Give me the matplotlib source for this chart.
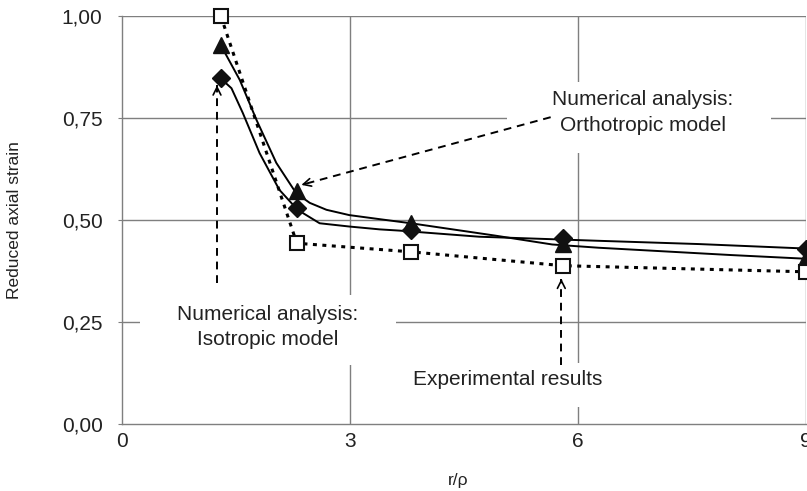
import matplotlib
matplotlib.use("Agg")
import matplotlib.pyplot as plt
from matplotlib.patches import Rectangle

plt.rcParams["font.family"] = ["Liberation Sans", "DejaVu Sans"]

# numerical curves (r/rho, reduced axial strain)
ortho_x = [1.31, 1.55, 1.77, 2.03, 2.29, 2.47, 2.69, 2.99, 3.39, 3.80, 4.90, 5.66, 6.27, 8.02, 9.00]
ortho_y = [0.925, 0.843, 0.745, 0.640, 0.566, 0.542, 0.525, 0.512, 0.502, 0.492, 0.462, 0.440, 0.432, 0.414, 0.405]
iso_x = [1.31, 1.44, 1.59, 1.81, 2.07, 2.31, 2.60, 2.99, 3.39, 3.65, 4.70, 6.27, 7.59, 9.00]
iso_y = [0.845, 0.823, 0.762, 0.664, 0.574, 0.525, 0.492, 0.484, 0.477, 0.474, 0.459, 0.449, 0.441, 0.430]

# marked points
pts_x = [1.3, 2.3, 3.8, 5.8, 9.0]
ortho_pts = [0.930, 0.572, 0.492, 0.441, 0.407]
iso_pts = [0.849, 0.530, 0.475, 0.455, 0.430]
exp_pts = [1.000, 0.443, 0.422, 0.388, 0.373]

y_ticks = [0.0, 0.25, 0.5, 0.75, 1.0]
y_labels = ["0,00", "0,25", "0,50", "0,75", "1,00"]
x_ticks = [0, 3, 6, 9]
x_labels = ["0", "3", "6", "9"]

fig = plt.figure(figsize=(8.07, 4.91), dpi=100)
ax = fig.add_axes([0.1512, 0.1365, 0.8476, 0.8309])
ax.set_xlim(0, 9)
ax.set_ylim(0, 1)

grid_c = "#7f7f7f"
for yv in y_ticks[1:]:
    ax.axhline(yv, color=grid_c, lw=1, zorder=0)
for xv in x_ticks[1:]:
    ax.axvline(xv, color=grid_c, lw=1, zorder=0)

for s in ["top", "right"]:
    ax.spines[s].set_visible(False)
for s in ["left", "bottom"]:
    ax.spines[s].set_color(grid_c)
    ax.spines[s].set_linewidth(1)

ax.set_yticks(y_ticks)
ax.set_yticklabels(y_labels)
ax.set_xticks(x_ticks)
ax.set_xticklabels(x_labels)
ax.tick_params(axis="y", length=3, color=grid_c, labelsize=15, labelcolor="#222222", pad=11)
ax.tick_params(axis="x", length=0, labelsize=15, labelcolor="#222222", pad=6)

# white boxes behind the labels
boxes = [(5.07, 0.664, 3.47, 0.174), (0.24, 0.145, 3.37, 0.171), (3.65, 0.042, 2.9, 0.108)]
for bx, by, bw, bh in boxes:
    ax.add_patch(Rectangle((bx, by), bw, bh, facecolor="white", edgecolor="none", zorder=1))

# curves
ax.plot(ortho_x, ortho_y, color="black", lw=1.4, zorder=3, clip_on=False)
ax.plot(iso_x, iso_y, color="black", lw=1.4, zorder=3, clip_on=False)
ax.plot(pts_x, exp_pts, color="black", lw=2.2, ls=(0, (1.3, 1.8)), zorder=3, clip_on=False)

ax.plot(pts_x, ortho_pts, ls="none", marker="^", ms=12, color="#111111", zorder=4, clip_on=False)
ax.plot(pts_x, iso_pts, ls="none", marker="D", ms=9, color="#111111", zorder=5, clip_on=False)
ax.plot(pts_x, exp_pts, ls="none", marker="s", ms=10, mfc="white", mec="#111111", mew=1.5,
        zorder=6, clip_on=False)

# annotation arrows: dashed shaft + solid head
arrows = [((5.64, 0.752), (2.36, 0.586)),
          ((1.25, 0.345), (1.25, 0.830)),
          ((5.78, 0.145), (5.78, 0.356))]
for (x0, y0), (x1, y1) in arrows:
    ax.plot([x0, x1], [y0, y1], color="black", lw=1.4, ls=(0, (4, 3)), zorder=2)
    ax.annotate("", xy=(x1, y1), xytext=(x1 + (x0 - x1) * 0.02, y1 + (y0 - y1) * 0.02),
                arrowprops=dict(arrowstyle="->", lw=1.2, color="black",
                                mutation_scale=14, shrinkA=0, shrinkB=0), zorder=2)

txt_kw = dict(ha="center", va="center", fontsize=15, color="#222222", linespacing=1.45, zorder=2)
ax.text(6.85, 0.763, "Numerical analysis:\nOrthotropic model", **txt_kw)
ax.text(1.92, 0.238, "Numerical analysis:\nIsotropic model", **txt_kw)
ax.text(5.08, 0.108, "Experimental results", **txt_kw)

fig.text(458 / 807, 1 - 480 / 491, "r/\u03c1", ha="center", va="center", fontsize=12.5, color="#222222")
fig.text(15 / 807, 1 - 220 / 491, "Reduced axial strain", ha="center", va="center", rotation=90,
         fontsize=12.5, color="#222222")

fig.savefig("out.png", dpi=100)
